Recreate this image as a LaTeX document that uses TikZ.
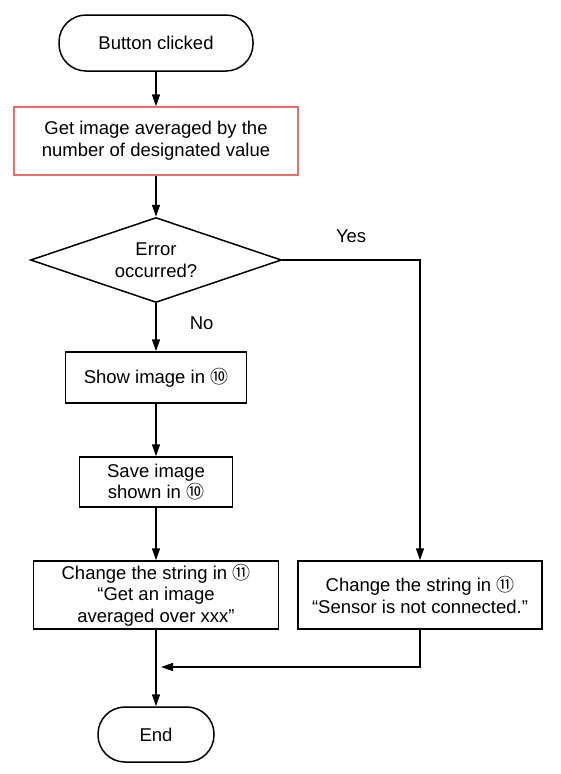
\documentclass[tikz,border=0pt]{standalone}
\usepackage{fontspec}
\setmainfont{Liberation Sans}
\newfontfamily\circfont{Noto Sans CJK JP}
\usetikzlibrary{shapes.geometric,arrows.meta,positioning}
\newcommand{\cten}{{\circfont\fontsize{18}{21.7}\selectfont ⑩}}
\newcommand{\celeven}{{\circfont\fontsize{18}{21.7}\selectfont ⑪}}
\definecolor{boxred}{RGB}{232,110,110}

\tikzset{
  box/.style={draw, line width=1.5pt, align=center, inner sep=0pt,
    font=\fontsize{18.5}{21.7}\selectfont},
  term/.style={box, rounded corners=27pt},
  lbl/.style={inner sep=0pt, font=\fontsize{18.5}{21.7}\selectfont},
  arr/.style={line width=1.5pt, -{Triangle[length=12pt,width=8pt]}},
}

\begin{document}
\begin{tikzpicture}[x=1pt,y=-1pt]
        \useasboundingbox (0,0) rectangle (561,774);
        % main column
        \node[term, minimum width=194pt, minimum height=56pt] (start) at (156,43) {Button clicked};
        \node[box, draw=boxred, minimum width=284pt, minimum height=68pt] (get) at (156,141)
            {Get image averaged by the\\number of designated value};
        \node[box, diamond, aspect=2.95, minimum width=251pt, minimum height=85pt] (err) at (156,260)
            {Error\\occurred?};
        \node[box, minimum width=181pt, minimum height=51pt] (show) at (156,377.5) {Show image in \cten};
        \node[box, minimum width=153pt, minimum height=50pt] (save) at (156,482) {Save image\\shown in \cten};
        \node[box, minimum width=245pt, minimum height=68pt] (chg1) at (156,595)
            {Change the string in \celeven\\“Get an image\\averaged over xxx”};
        \node[term, minimum width=116pt, minimum height=55pt] (end) at (156,734.5) {End};
        % error branch
        \node[box, minimum width=244pt, minimum height=68pt] (chg2) at (420,595)
            {Change the string in \celeven\\“Sensor is not connected.”};
        \coordinate (mrg) at (156,667);
        % arrows
        \draw[arr] (start) -- (get);
        \draw[arr] (get) -- (err);
        \draw[arr] (err) -- node[lbl, pos=0.42, right=33pt]{No} (show);
        \draw[arr] (show) -- (save);
        \draw[arr] (save) -- (chg1);
        \draw[arr] (chg1) -- (end);
        \draw[arr] (err.east) -| node[lbl, pos=0.25, above=17pt]{Yes} (chg2.north);
        \draw[arr, shorten >=5pt] (chg2.south) |- (mrg);
    \end{tikzpicture}
\end{document}
